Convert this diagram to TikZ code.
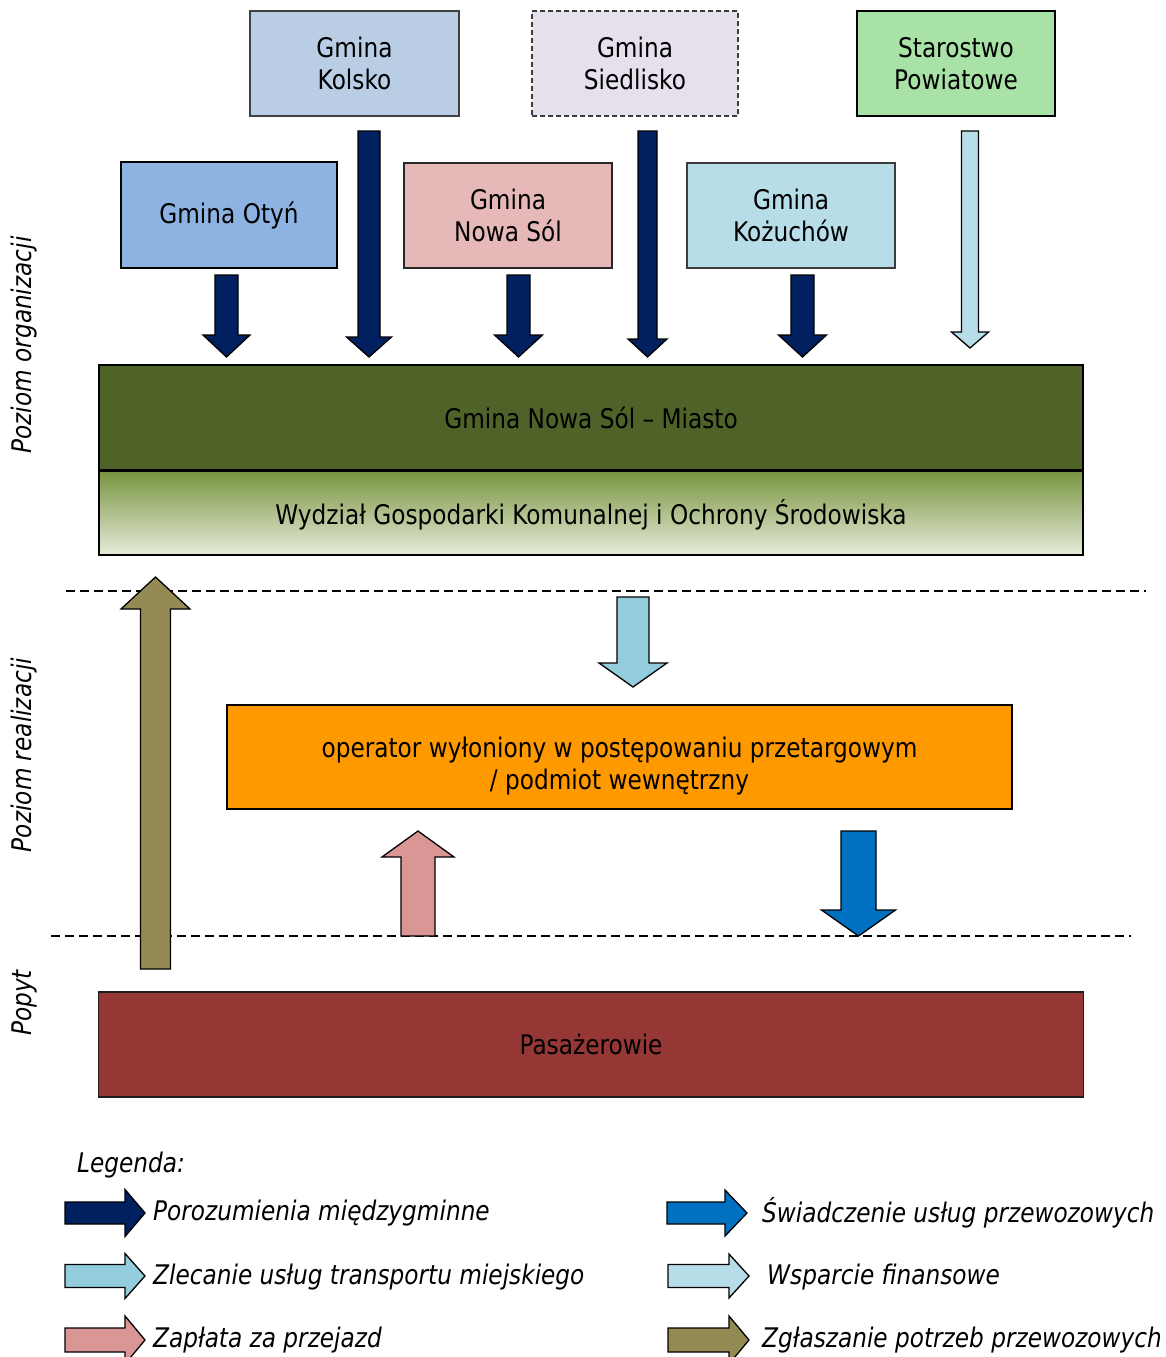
\documentclass[tikz,border=0pt]{standalone}
\usepackage{fontspec}
\setmainfont{DejaVu Sans}[FakeStretch=0.86]
\definecolor{kolskoC}{HTML}{B9CDE5}
\definecolor{siedC}{HTML}{E5E0EC}
\definecolor{staroC}{HTML}{A8E2A6}
\definecolor{otynC}{HTML}{8DB3E2}
\definecolor{nsC}{HTML}{E6B9B8}
\definecolor{kozC}{HTML}{B7DEE8}
\definecolor{miastoC}{HTML}{4F6228}
\definecolor{wtop}{HTML}{77933C}
\definecolor{wmid}{HTML}{C8D4AE}
\definecolor{wbot}{HTML}{E6EBDA}
\definecolor{operC}{HTML}{FF9900}
\definecolor{pasC}{HTML}{953735}
\definecolor{navyA}{HTML}{002060}
\definecolor{lightA}{HTML}{B7DEE8}
\definecolor{midA}{HTML}{93CDDD}
\definecolor{pinkA}{HTML}{D99694}
\definecolor{blueA}{HTML}{0070C0}
\definecolor{oliveA}{HTML}{948A54}
% vertical block arrow: style, cx, shaft half width, head half width, tail y, head y, tip y
\newcommand\blkv[7]{\filldraw[blockarrow,#1] ({#2-#3},#5) -- ({#2+#3},#5) -- ({#2+#3},#6) -- ({#2+#4},#6) -- (#2,#7) -- ({#2-#4},#6) -- ({#2-#3},#6) -- cycle;}
% horizontal block arrow: style, tail x, head x, tip x, cy, shaft half, head half
\newcommand\blkh[7]{\filldraw[blockarrow,#1] (#2,{#5-#6}) -- (#3,{#5-#6}) -- (#3,{#5-#7}) -- (#4,#5) -- (#3,{#5+#7}) -- (#3,{#5+#6}) -- (#2,{#5+#6}) -- cycle;}
\begin{document}
\begin{tikzpicture}[x=1pt,y=-1pt,
  txt/.style={font=\fontsize{27}{32}\selectfont, align=center, inner sep=0pt},
  box/.style={txt, draw=black, line width=1.6pt, rectangle},
  blockarrow/.style={draw=black, line width=1.3pt, line join=miter},
  sep/.style={draw=black, line width=1.6pt, dash pattern=on 9pt off 5pt},
  side/.style={txt, font=\fontsize{27}{32}\selectfont\itshape, rotate=90},
  leg/.style={txt, font=\fontsize{27}{32}\selectfont\itshape, anchor=west}]
\useasboundingbox (0,0) rectangle (1166,1357);
\fill[white] (0,0) rectangle (1166,1357);

% top municipalities
\node[box, draw={rgb,255:red,64;green,64;blue,64}, fill=kolskoC, minimum width=209, minimum height=105] (kolsko) at (354.5,63.5) {Gmina\\Kolsko};
\node[box, draw={rgb,255:red,60;green,60;blue,60}, dash pattern=on 5pt off 3pt, line width=1.3pt, fill=siedC, minimum width=206, minimum height=105] (siedlisko) at (635,63.5) {Gmina\\Siedlisko};
\node[box, fill=staroC, minimum width=198, minimum height=105] (starostwo) at (956,63.5) {Starostwo\\Powiatowe};
\node[box, fill=otynC, minimum width=216, minimum height=106] (otyn) at (229,215) {Gmina Otyń};
\node[box, draw={rgb,255:red,40;green,40;blue,40}, fill=nsC, minimum width=208, minimum height=105] (nowasol) at (508,215.5) {Gmina\\Nowa Sól};
\node[box, draw={rgb,255:red,60;green,60;blue,60}, fill=kozC, minimum width=208, minimum height=105] (kozuchow) at (791,215.5) {Gmina\\Kożuchów};

% main organisation
\node[box, fill=miastoC, minimum width=984, minimum height=105] (miasto) at (591,417.5) {Gmina Nowa Sól – Miasto};
\node[box, top color=wtop, middle color=wmid, bottom color=wbot, minimum width=984, minimum height=85] (wydzial) at (591,512.5) {};
\node[txt] (wydzialtxt) at (591,515) {Wydział Gospodarki Komunalnej i Ochrony Środowiska};
\draw[line width=1.6pt] (miasto.south west) -- (miasto.south east);

% arrows into organisation
\blkv{fill=navyA}{226.5}{11.5}{23.5}{275}{335}{357}
\blkv{fill=navyA}{369}{11}{22.5}{131}{337}{357}
\blkv{fill=navyA}{518.5}{11.5}{24}{275}{335}{357}
\blkv{fill=navyA}{647.5}{9.5}{19.5}{131}{339}{357}
\blkv{fill=navyA}{802.5}{11.5}{24}{275}{335}{357}
\blkv{fill=lightA}{970}{8.5}{18.5}{131}{332}{348}

% separators
\coordinate (s1a) at (66,591);
\coordinate (s1b) at (1146,591);
\coordinate (s2a) at (51,936);
\coordinate (s2b) at (1131,936);
\draw[sep] (s1a) -- (s1b);
\draw[sep] (s2a) -- (s2b);

% operator
\node[box, fill=operC, minimum width=785, minimum height=104] (operator) at (619.5,757) {};
\node[txt] (operatortxt) at (619.5,766) {operator wyłoniony w postępowaniu przetargowym\\/ podmiot wewnętrzny};

\blkv{fill=midA}{633}{16}{34}{597}{663}{687}
\blkv{fill=pinkA}{418}{17}{36}{936}{857}{831}
\blkv{fill=blueA}{858.5}{17.5}{37}{831}{910}{936}
\blkv{fill=oliveA}{155.5}{15}{34.5}{969}{609}{577}

% demand
\node[box, draw={rgb,255:red,30;green,30;blue,30}, fill=pasC, minimum width=985, minimum height=105] (pasazerowie) at (591,1044.5) {Pasażerowie};

% side labels
\node[side] (lorg) at (24,345) {Poziom organizacji};
\node[side] (lreal) at (24,755) {Poziom realizacji};
\node[side] (lpop) at (24,1003) {Popyt};

% legend
\node[leg] (legenda) at (77,1165) {Legenda:};
\blkh{fill=navyA}{65}{125}{145}{1213}{11}{23.5}
\blkh{fill=midA}{65}{125}{145}{1276}{11.5}{22.5}
\blkh{fill=pinkA}{65}{125}{145}{1340}{12}{24}
\node[leg] (l1) at (153,1213) {Porozumienia międzygminne};
\node[leg] (l2) at (153,1277) {Zlecanie usług transportu miejskiego};
\node[leg] (l3) at (153,1340) {Zapłata za przejazd};
\blkh{fill=blueA}{667}{725}{747}{1213}{11}{23}
\blkh{fill=lightA}{668}{729}{749}{1276}{11.5}{22}
\blkh{fill=oliveA}{668}{729}{749}{1340}{12}{24}
\node[leg] (r1) at (762,1213) {Świadczenie usług przewozowych};
\node[leg] (r2) at (767,1277) {Wsparcie finansowe};
\node[leg] (r3) at (762,1340) {Zgłaszanie potrzeb przewozowych};
\end{tikzpicture}
\end{document}
